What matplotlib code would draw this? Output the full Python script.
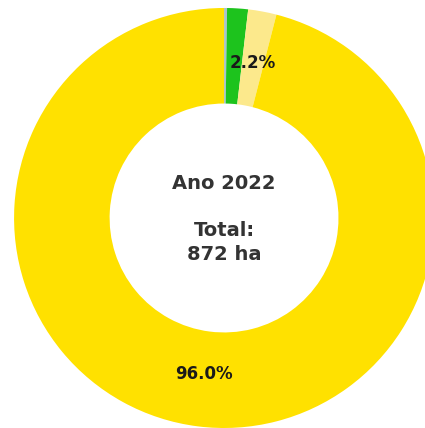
import matplotlib
matplotlib.use("Agg")
import matplotlib.pyplot as plt

# Area by class (ha), year 2022
categories = ["Classe 1", "Classe 2", "Classe 3", "Classe 4"]
areas_ha = [2, 14, 19, 837]
colors = ["#A9C2CC", "#1DC31D", "#FCE98C", "#FFE100"]
year = 2022

total = sum(areas_ha)

fig = plt.figure(figsize=(4.25, 4.28), dpi=100)
ax = fig.add_axes([0, 0, 1, 1])

wedges, texts, autotexts = ax.pie(
    areas_ha,
    colors=colors,
    startangle=90,
    counterclock=False,
    radius=1.0,
    autopct=lambda p: f"{p:.1f}%" if p >= 2 else "",
    pctdistance=0.75,
    wedgeprops=dict(width=0.455, linewidth=0),
    textprops=dict(fontsize=12, fontweight="bold", color="#1a1a1a"),
)

ax.text(0, -0.005, f"Ano {year}\n\nTotal:\n{total} ha",
        ha="center", va="center", fontsize=14, fontweight="bold",
        color="#333333", linespacing=1.3)

ax.set_xlim(-1.067, 0.957)
ax.set_ylim(-1.0, 1.038)
ax.set_aspect("auto")
ax.axis("off")

fig.savefig("out.png", dpi=100)
